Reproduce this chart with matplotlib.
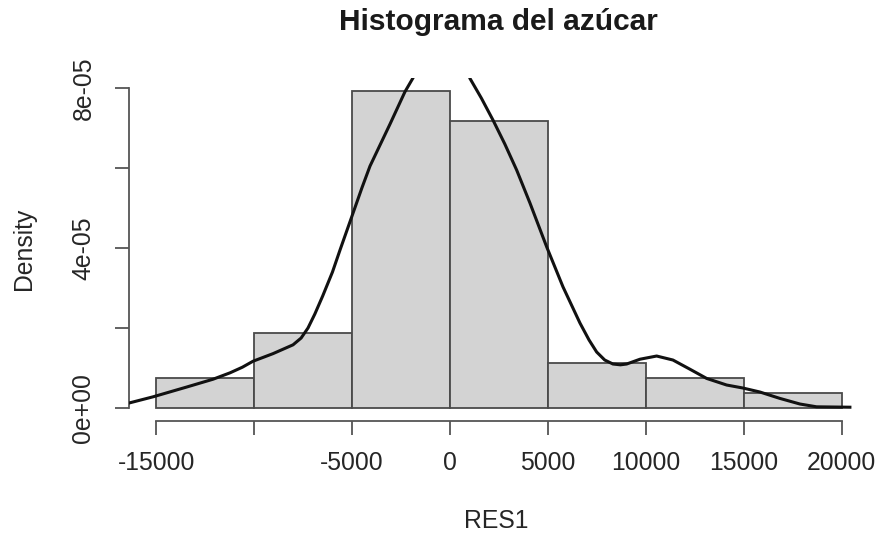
import matplotlib
matplotlib.use("Agg")
import matplotlib.pyplot as plt
import numpy as np

# ---- data ----
breaks = [-15000, -10000, -5000, 0, 5000, 10000, 15000, 20000]
counts = [2, 5, 21, 19, 3, 2, 1]
n_obs = 53

dens_x = [-16384, -15159, -13439, -12096, -11229, -10600, -10055, -9034,
          -8013, -7600, -7250, -6900, -6500, -6000, -5615, -5017, -4500,
          -4083, -3062, -2297, -1904, -1531, -1021, -510, 0, 510, 1021, 1600,
          2195, 2800, 3404, 4083, 4936, 5768, 6635, 7100, 7488, 7900, 8320,
          8700, 9019, 9699, 10550, 11382, 12250, 13102, 14123, 14955, 15823,
          16843, 17864, 18716, 20416]
dens_y = [0.125, 0.28, 0.525, 0.72, 0.88, 1.02, 1.17, 1.36, 1.58, 1.75,
          2.00, 2.35, 2.80, 3.40, 3.95, 4.78, 5.50, 6.05, 7.10, 7.91, 8.24,
          8.575, 8.9, 9.075, 9.1, 8.9, 8.24, 7.75, 7.2, 6.6, 5.95, 5.125, 4.03,
          3.03, 2.125, 1.70, 1.40, 1.20, 1.10, 1.08, 1.10, 1.22, 1.30, 1.20,
          0.97, 0.74, 0.575, 0.50, 0.40, 0.24, 0.10, 0.03, 0.02]  # x 1e-05

x_ticks = [-15000, -10000, -5000, 0, 5000, 10000, 15000, 20000]
x_tick_labels = ["-15000", "", "-5000", "0", "5000", "10000", "15000", "20000"]
y_ticks = [0, 2e-05, 4e-05, 6e-05, 8e-05]
y_tick_labels = ["0e+00", "", "4e-05", "", "8e-05"]

title = "Histograma del azúcar"
xlabel = "RES1"
ylabel = "Density"

# ---- derived ----
width = breaks[1] - breaks[0]
density = [c / (n_obs * width) for c in counts]
dy = [v * 1e-05 for v in dens_y]

plt.rcParams['font.family'] = ['Liberation Sans', 'DejaVu Sans']
fig = plt.figure(figsize=(8.8, 5.39), dpi=100)
ax = fig.add_axes([0.1463, 0.2195, 0.9877 - 0.1463, 0.8545 - 0.2195])

ax.bar(breaks[:-1], density, width=width, align='edge',
       color='#d3d3d3', edgecolor='#4a4a4a', linewidth=1.3, zorder=2)
ax.plot(dens_x, dy, color='#111111', linewidth=2.2, zorder=3,
        solid_joinstyle='round')

xr = breaks[-1] - breaks[0]
ax.set_xlim(breaks[0] - 0.04 * xr, breaks[-1] + 0.04 * xr)
ymax = max(density)
ax.set_ylim(-0.04 * ymax, ymax * 1.04)

for s in ['top', 'right']:
    ax.spines[s].set_visible(False)
ax.spines['bottom'].set_bounds(x_ticks[0], x_ticks[-1])
ax.spines['left'].set_bounds(y_ticks[0], y_ticks[-1])
for s in ['bottom', 'left']:
    ax.spines[s].set_color('#555555')
    ax.spines[s].set_linewidth(1.3)

ax.set_xticks(x_ticks)
ax.set_xticklabels(x_tick_labels)
ax.set_yticks(y_ticks)
ax.set_yticklabels(y_tick_labels, rotation=90, va='center')
ax.tick_params(axis='both', direction='out', length=10, width=1.3,
               color='#555555', labelsize=17.8, labelcolor='#262626')
ax.tick_params(axis='x', pad=12)
ax.tick_params(axis='y', pad=14)

fig.text(0.5665, 1 - 22 / 539, title, ha='center', va='center',
         fontsize=21.5, fontweight='bold', color='#1a1a1a')
fig.text(496 / 880, 1 - 521 / 539, xlabel, ha='center', va='center',
         fontsize=17.8, color='#262626')
fig.text(24 / 880, 1 - 249 / 539, ylabel, ha='center', va='center',
         fontsize=17.8, rotation=90, color='#262626')

fig.savefig("out.png", dpi=100)
